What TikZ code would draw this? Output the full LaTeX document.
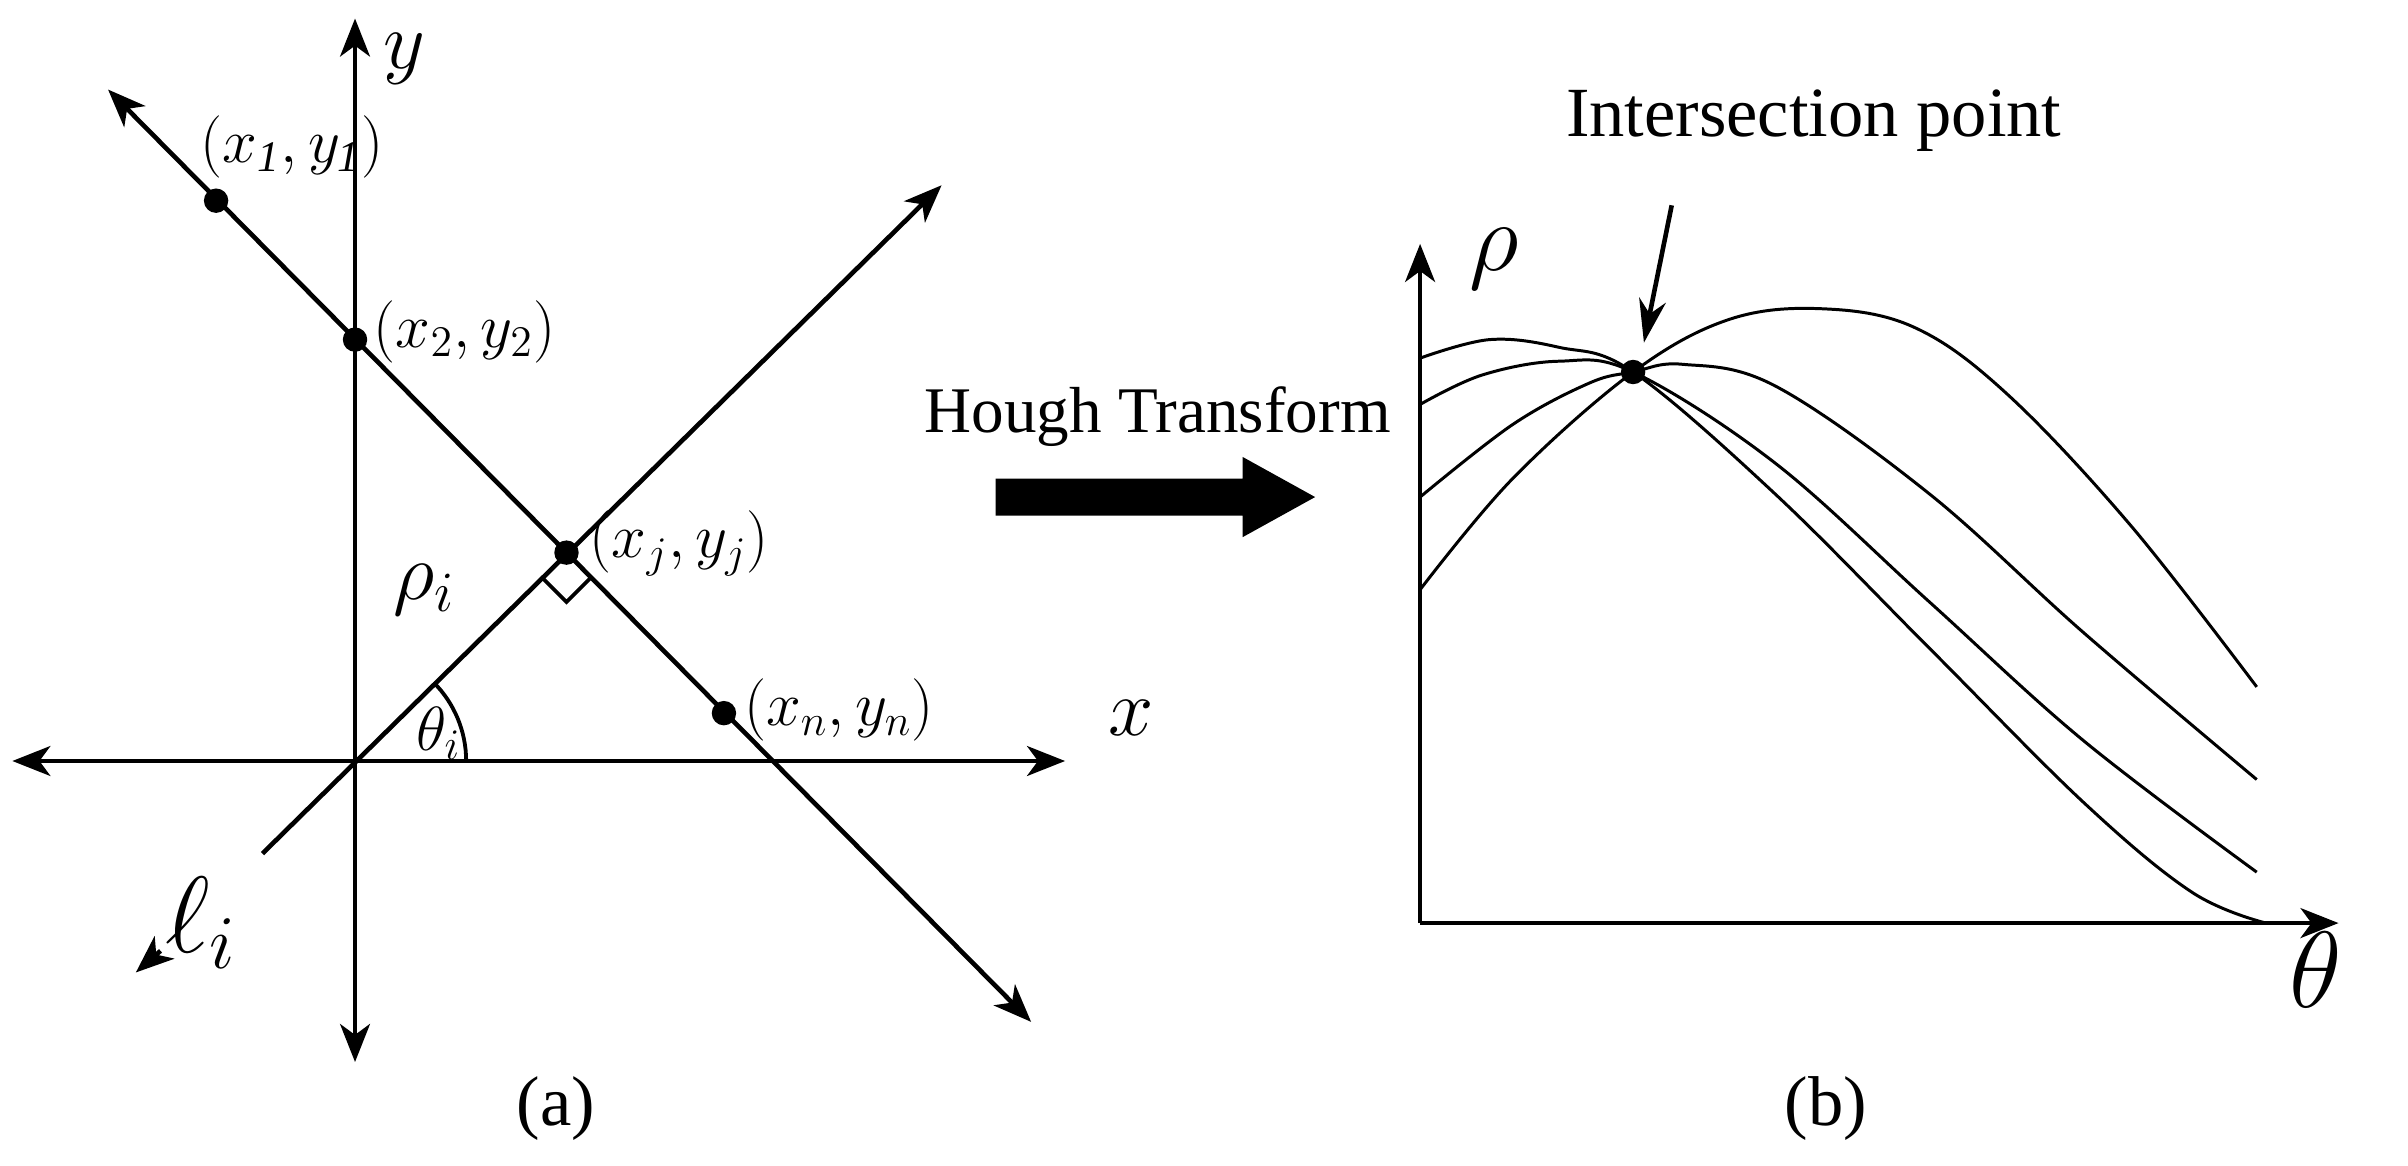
\RequirePackage{fix-cm}
\documentclass[tikz,border=0pt]{standalone}
\usepackage{fontspec}
\setmainfont{Liberation Serif}
\usetikzlibrary{arrows.meta}
\begin{document}
\begin{tikzpicture}[x={(0.02cm,0)},y={(0,-0.02cm)},
  ln/.style={line width=1.7pt},
  ar/.style={ln,-{Stealth[length=14pt,width=11pt,inset=4pt]}},
  ar2/.style={ln,{Stealth[length=14pt,width=11pt,inset=4pt]}-{Stealth[length=14pt,width=11pt,inset=4pt]}},
  cv/.style={line width=1.1pt},
  dot/.style={circle,fill,inner sep=0pt,minimum size=9pt},
  lbl/.style={font=\fontsize{23}{28}\selectfont,inner sep=1pt},
  txt/.style={font=\fontsize{26}{32}\selectfont,inner sep=1pt}]
\useasboundingbox (0,0) rectangle (1560,755);
% (a)
\coordinate (O) at (230,493);
\coordinate (yb) at (230,688); \coordinate (yt) at (230,12);
\coordinate (xl) at (8,493); \coordinate (xr) at (690,493);
\draw[ar2] (yb) -- (yt);
\draw[ar2] (xl) -- (xr);
\coordinate (lt) at (610,120); \coordinate (lb) at (170,553);
\draw[ar] (lb) -- (lt);
\coordinate (lk) at (104,616); \coordinate (lk2) at (88,630);
\draw[ar] (lk) -- (lk2);
\coordinate (pa) at (70,58); \coordinate (pb) at (668,662);
\draw[ar2] (pa) -- (pb);
\node[dot] (p1) at (140,130) {};
\node[dot] (p2) at (230,220) {};
\node[dot] (pj) at (367,358) {};
\node[dot] (pn) at (469,462) {};
\draw[cv,line width=1.4pt] (pj) ++(-16,16) -- ++(16,16) -- ++(16,-16);
\draw[cv,line width=1.4pt] (302,493) arc[start angle=0,end angle=45,x radius=72,y radius=-72];
\node[lbl,anchor=west] (t1) at (128,95) {$(x_{\mathit 1},y_{\mathit 1})$};
\node[lbl,anchor=west] (t2) at (240,215) {$(x_2,y_2)$};
\node[lbl,anchor=west] (tj) at (380,352) {$(x_j,y_j)$};
\node[lbl,anchor=west] (tn) at (480,460) {$(x_n,y_n)$};
\node[font=\fontsize{30}{34}\selectfont] (ly) at (262,38) {$y$};
\node[font=\fontsize{30}{34}\selectfont] (lx) at (733,465) {$x$};
\node[font=\fontsize{30}{34}\selectfont] (lr) at (275,382) {$\rho_i$};
\node[lbl] (lt2) at (284,475) {$\theta_i$};
\node[font=\fontsize{40}{44}\selectfont] (ll) at (130,598) {$\ell_i$};
\node[txt] (la) at (360,718) {(a)};
% arrow
\node[font=\fontsize{24}{30}\selectfont] (ht) at (750,270) {Hough Transform};
\fill (645,310) -- (805,310) -- (805,296) -- (852,322) -- (805,348) -- (805,334) -- (645,334) -- cycle;
% (b)
\coordinate (O2) at (920,598);
\coordinate (rt) at (920,158); \coordinate (tr) at (1515,598);
\draw[ar] (O2) -- (rt);
\draw[ar] (O2) -- (tr);
\node[font=\fontsize{36}{40}\selectfont] (lrho) at (968,168) {$\rho$};
\node[font=\fontsize{40}{44}\selectfont] (lth) at (1500,628) {$\theta$};
\draw[cv] plot[smooth,tension=0.6] coordinates {(920,232) (965,220) (1010,225) (1058,241) (1150,320) (1250,420) (1350,520) (1420,578) (1468,598)};
\draw[cv] plot[smooth,tension=0.6] coordinates {(920,262) (960,243) (1010,234) (1058,241) (1150,300) (1250,390) (1350,480) (1462,565)};
\draw[cv] plot[smooth,tension=0.6] coordinates {(920,322) (980,275) (1030,248) (1058,241) (1090,236) (1150,250) (1250,320) (1350,410) (1462,505)};
\draw[cv] plot[smooth,tension=0.6] coordinates {(920,382) (980,310) (1058,241) (1120,207) (1180,200) (1240,212) (1300,255) (1380,340) (1462,445)};
\node[dot] (ip) at (1058,241) {};
\node[txt] (it) at (1175,78) {Intersection point};
\coordinate (ia) at (1083,133);
\draw[ln,-{Stealth[length=16pt,width=10pt]}] (ia) -- (1065,222);
\node[txt] (lb2) at (1183,718) {(b)};
\end{tikzpicture}
\end{document}
